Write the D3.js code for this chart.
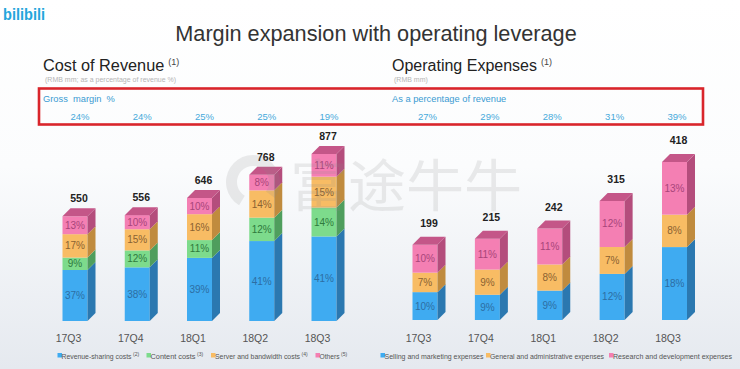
<!DOCTYPE html>
<html>
<head>
<meta charset="utf-8">
<script src="https://cdn.jsdelivr.net/npm/d3@7"></script>
<style>
  body { margin: 0; background: #fff; }
  svg { display: block; font-family: "Liberation Sans", Arial, sans-serif; }
  .pre { white-space: pre; }
</style>
</head>
<body>
<svg id="chart" width="740" height="369"></svg>
<script>
// quarters shared by both panels
const quarters = ["17Q3", "17Q4", "18Q1", "18Q2", "18Q3"];

// cost of revenue (RMB mm) and breakdown as % of revenue
const costTotals = [550, 556, 646, 768, 877];
const grossMargin = ["24%", "24%", "25%", "25%", "19%"];
const revenueSharing = [37, 38, 39, 41, 41];
const contentCosts = [9, 12, 11, 12, 14];
const serverCosts = [17, 15, 16, 14, 15];
const otherCosts = [13, 10, 10, 8, 11];

// operating expenses (RMB mm) and breakdown as % of revenue
const opexTotals = [199, 215, 242, 315, 418];
const opexPct = ["27%", "29%", "28%", "31%", "39%"];
const sellingMkt = [10, 9, 9, 12, 18];
const generalAdmin = [7, 9, 8, 7, 8];
const researchDev = [10, 11, 11, 12, 13];

const colors = {
    blue:   { front: "#3fabf1", side: "#2b78b0", top: "#3590cc", text: "#2d6ea3" },
    green:  { front: "#7ddb8c", side: "#4f9e5d", top: "#62b872", text: "#2f7a3d" },
    orange: { front: "#f8bc64", side: "#c08b3e", top: "#d9a04e", text: "#8a6232" },
    pink:   { front: "#f47fb3", side: "#b44d7c", top: "#c45688", text: "#a8457a" }
};

const svg = d3.select("#chart");
const defs = svg.append("defs");

const bg = defs.append("linearGradient").attr("id", "bg")
    .attr("x1", 0).attr("y1", 0).attr("x2", 0).attr("y2", 1);
bg.append("stop").attr("offset", "0%").attr("stop-color", "#ffffff");
bg.append("stop").attr("offset", "45%").attr("stop-color", "#fbfcfd");
bg.append("stop").attr("offset", "100%").attr("stop-color", "#e5e9ef");
svg.append("rect").attr("width", 740).attr("height", 369).attr("fill", "url(#bg)");

// logo
svg.append("text")
    .attr("x", 3).attr("y", 20)
    .attr("font-size", 16).attr("font-weight", "bold")
    .attr("fill", "#23a6dc")
    .attr("textLength", 42).attr("lengthAdjust", "spacingAndGlyphs")
    .text("bilibili");

// title
svg.append("text")
    .attr("x", 376).attr("y", 41)
    .attr("text-anchor", "middle")
    .attr("font-size", 21.7).attr("fill", "#333")
    .text("Margin expansion with operating leverage");

function panelHeader(x, title, size, sub, rowLabel) {
    const t = svg.append("text").attr("x", x).attr("y", 71)
        .attr("font-size", size).attr("fill", "#222");
    t.append("tspan").text(title);
    t.append("tspan").attr("dx", 4).attr("dy", -6).attr("font-size", 9).attr("fill", "#444").text("(1)");

    svg.append("text").attr("x", x + 2).attr("y", 82)
        .attr("font-size", 7).attr("fill", "#b5b5b5").text(sub);

    svg.append("text").attr("class", "pre").attr("x", x).attr("y", 102)
        .attr("font-size", 9.3).attr("fill", "#3a9bd2").text(rowLabel);
}

panelHeader(43, "Cost of Revenue", 16.3, "(RMB mm; as a percentage of revenue %)", "Gross  margin  %");
panelHeader(392, "Operating Expenses", 16, "(RMB mm)", "As a percentage of revenue");

// red highlight box
svg.append("rect")
    .attr("x", 39).attr("y", 88.5)
    .attr("width", 664).attr("height", 36)
    .attr("fill", "none").attr("stroke", "#d9252b").attr("stroke-width", 2.6);

const dx = 8, dy = 8, barW = 25;

function drawPanel(opts) {
    const x = d3.scalePoint().domain(quarters).range(opts.xRange);
    const y = d3.scaleLinear().domain([0, d3.max(opts.totals)]).range(opts.yRange);

    // rows of segment values: each total split in proportion to its percentages
    const keys = opts.series.map(s => s.key);
    const rows = quarters.map((q, i) => {
        const sum = d3.sum(opts.series, s => s.pct[i]);
        const row = { q: q, i: i };
        opts.series.forEach(s => { row[s.key] = opts.totals[i] * s.pct[i] / sum; });
        return row;
    });
    const stacked = d3.stack().keys(keys)(rows);

    const g = svg.append("g");

    stacked.forEach((layer, li) => {
        const s = opts.series[li];
        const c = colors[s.color];
        const lg = g.append("g");

        lg.selectAll("rect.front")
            .data(layer)
            .join("rect")
            .attr("class", "front")
            .attr("x", d => x(d.data.q) - barW / 2)
            .attr("y", d => y(d[1]))
            .attr("width", barW)
            .attr("height", d => y(d[0]) - y(d[1]))
            .attr("fill", c.front);

        lg.selectAll("path.side")
            .data(layer)
            .join("path")
            .attr("class", "side")
            .attr("d", d => {
                const x1 = x(d.data.q) + barW / 2;
                const y0 = y(d[0]), y1 = y(d[1]);
                return `M${x1},${y0}L${x1 + dx},${y0 - dy}L${x1 + dx},${y1 - dy}L${x1},${y1}Z`;
            })
            .attr("fill", c.side);

        lg.selectAll("text.pct")
            .data(layer)
            .join("text")
            .attr("class", "pct")
            .attr("x", d => x(d.data.q))
            .attr("y", d => (y(d[0]) + y(d[1])) / 2 + 3.5)
            .attr("text-anchor", "middle")
            .attr("font-size", 10)
            .attr("fill", c.text)
            .text(d => s.pct[d.data.i] + "%");
    });

    // top face on the uppermost segment
    const topLayer = stacked[stacked.length - 1];
    const topColor = colors[opts.series[opts.series.length - 1].color];
    g.selectAll("path.top")
        .data(topLayer)
        .join("path")
        .attr("class", "top")
        .attr("d", d => {
            const x0 = x(d.data.q) - barW / 2, x1 = x0 + barW;
            const yt = y(d[1]);
            return `M${x0},${yt}L${x0 + dx},${yt - dy}L${x1 + dx},${yt - dy}L${x1},${yt}Z`;
        })
        .attr("fill", topColor.top);

    // totals above bars
    g.selectAll("text.total")
        .data(opts.totals)
        .join("text")
        .attr("class", "total")
        .attr("x", (d, i) => x(quarters[i]) + dx / 2)
        .attr("y", d => y(d) - dy - opts.labelGap)
        .attr("text-anchor", "middle")
        .attr("font-size", 10.5).attr("font-weight", "bold")
        .attr("fill", "#222")
        .text(d => d);

    // percentage row in the red box
    svg.append("g").selectAll("text")
        .data(opts.rowValues)
        .join("text")
        .attr("x", (d, i) => x(quarters[i]) + opts.rowShift)
        .attr("y", 119.5)
        .attr("text-anchor", "middle")
        .attr("font-size", 9.5)
        .attr("fill", "#47aadb")
        .text(d => d);

    // category axis
    const axis = svg.append("g")
        .attr("transform", `translate(-7, ${opts.axisY})`)
        .call(d3.axisBottom(x).tickSize(0).tickPadding(0));
    axis.select(".domain").remove();
    axis.selectAll("text")
        .attr("font-family", "Liberation Sans, Arial, sans-serif")
        .attr("font-size", 10.5).attr("fill", "#555");

    // legend
    const leg = svg.append("g");
    opts.series.forEach((s, i) => {
        const lx = opts.legendX[i];
        leg.append("rect").attr("x", lx).attr("y", 353).attr("width", 4.5).attr("height", 4.5)
            .attr("fill", colors[s.color].front);
        const t = leg.append("text").attr("x", lx + 4).attr("y", 358.5)
            .attr("font-size", 7).attr("fill", "#555");
        t.append("tspan").attr("textLength", s.width).attr("lengthAdjust", "spacingAndGlyphs").text(s.label);
        if (s.note) {
            t.append("tspan").attr("dx", 1.5).attr("dy", -2.5).attr("font-size", 5).text(s.note);
        }
    });
}

drawPanel({
    xRange: [75, 324],
    yRange: [321, 154],
    totals: costTotals,
    labelGap: 6,
    rowValues: grossMargin,
    rowShift: 5,
    axisY: 335,
    legendX: [57.5, 146.5, 211, 315.5],
    series: [
        { key: "rs", pct: revenueSharing, color: "blue", label: "Revenue-sharing costs", width: 70, note: "(2)" },
        { key: "cc", pct: contentCosts, color: "green", label: "Content costs", width: 45, note: "(3)" },
        { key: "sb", pct: serverCosts, color: "orange", label: "Server and bandwidth costs", width: 85, note: "(4)" },
        { key: "ot", pct: otherCosts, color: "pink", label: "Others", width: 20, note: "(5)" }
    ]
});

drawPanel({
    xRange: [425, 674.5],
    yRange: [320, 162],
    totals: opexTotals,
    labelGap: 10,
    rowValues: opexPct,
    rowShift: 2.5,
    axisY: 335,
    legendX: [380.5, 486, 609],
    series: [
        { key: "sm", pct: sellingMkt, color: "blue", label: "Selling and marketing expenses", width: 99 },
        { key: "ga", pct: generalAdmin, color: "orange", label: "General and administrative expenses", width: 114 },
        { key: "rd", pct: researchDev, color: "pink", label: "Research and development expenses", width: 119 }
    ]
});

// faint watermark over the middle of the slide
const wm = svg.append("g").attr("opacity", 0.16).attr("pointer-events", "none");
wm.append("path")
    .attr("d", d3.arc()({ innerRadius: 16, outerRadius: 27, startAngle: -2.6, endAngle: 2.2 }))
    .attr("transform", "translate(253,182)")
    .attr("fill", "#8c8c8c");
wm.append("text")
    .attr("x", 290).attr("y", 206)
    .attr("font-family", "Noto Sans CJK SC")
    .attr("font-size", 56)
    .attr("fill", "#8c8c8c")
    .attr("textLength", 232).attr("lengthAdjust", "spacingAndGlyphs")
    .text("富途牛牛");
</script>
</body>
</html>
